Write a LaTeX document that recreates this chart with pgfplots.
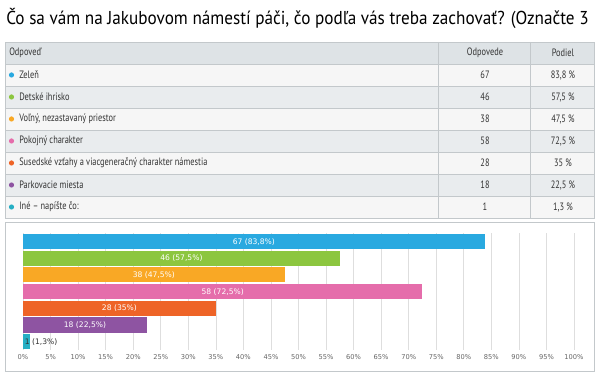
\documentclass[border=0pt]{standalone}
\usepackage{pgfplots}
\pgfplotsset{compat=1.18}
\usepackage{fontspec}
\setmainfont{PT Sans}[FakeStretch=0.92]
\newfontfamily\tabfont{PT Sans}[FakeStretch=0.785]
\newfontfamily\dejavu{DejaVu Sans}
\definecolor{c1}{HTML}{29A9E0}
\definecolor{c2}{HTML}{8CC63F}
\definecolor{c3}{HTML}{F9A825}
\definecolor{c4}{HTML}{E56DAB}
\definecolor{c5}{HTML}{EE6427}
\definecolor{c6}{HTML}{8E54A2}
\definecolor{c7}{HTML}{26AFC4}
\definecolor{hdr}{HTML}{DEE3E6}
\definecolor{rowA}{HTML}{F6F6F6}
\definecolor{rowB}{HTML}{E9ECEE}
\definecolor{bord}{HTML}{C3C8CB}
\definecolor{txt}{HTML}{333333}
\definecolor{tickc}{HTML}{666666}
\begin{document}
\begin{tikzpicture}
\useasboundingbox (0pt,0pt) rectangle (450pt,-282.75pt);
\begin{scope}[x=0.75pt,y=-0.75pt]
\fill[white] (0,0) rectangle (600,377);
% title
\node[anchor=west,font=\fontsize{14}{16}\selectfont,text=black,inner sep=0] at (6,18) {Čo sa vám na Jakubovom námestí páči, čo podľa vás treba zachovať? (Označte 3};
% table
\fill[hdr] (5,42) rectangle (594,64);
\fill[rowA] (5,64) rectangle (594,86);
\fill[rowB] (5,86) rectangle (594,108);
\fill[rowA] (5,108) rectangle (594,130);
\fill[rowB] (5,130) rectangle (594,152);
\fill[rowA] (5,152) rectangle (594,174);
\fill[rowB] (5,174) rectangle (594,196);
\fill[rowA] (5,196) rectangle (594,218);
\foreach \yy in {64,86,108,130,152,174,196}
  \draw[bord,line width=0.6pt] (5,\yy) -- (594,\yy);
\draw[bord,line width=0.6pt] (5,42) rectangle (594,218);
\draw[bord,line width=0.6pt] (438,42) -- (438,218);
\draw[bord,line width=0.6pt] (530,42) -- (530,218);
\begin{scope}[every node/.style={font=\tabfont\fontsize{8}{10}\selectfont,text=txt,inner sep=0}]
\node[anchor=west] at (9,53) {Odpoveď};
\node at (485,53) {Odpovede};
\node at (563,53) {Podiel};
\foreach \yc/\cc/\lab/\cnt/\pc in {
  75/c1/{Zeleň}/67/{83,8 \%},
  97/c2/{Detské ihrisko}/46/{57,5 \%},
  119/c3/{Voľný, nezastavaný priestor}/38/{47,5 \%},
  141/c4/{Pokojný charakter}/58/{72,5 \%},
  163/c5/{Susedské vzťahy a viacgeneračný charakter námestia}/28/{35 \%},
  185/c6/{Parkovacie miesta}/18/{22,5 \%},
  207/c7/{Iné – napíšte čo:}/1/{1,3 \%}}{
  \fill[\cc] (11.5,\yc) circle[radius=2.6];
  \node[anchor=west] at (19,\yc) {\lab};
  \node at (485,\yc) {\cnt};
  \node at (563,\yc) {\pc};
}
\end{scope}
% chart box
\draw[bord,line width=0.6pt,fill=white] (5,222) rectangle (594,371);
\end{scope}
\begin{axis}[
  at={(17.25pt,-262.5pt)}, anchor=south west,
  scale only axis, width=413.25pt, height=87.5pt,
  xbar, bar width=11.25pt, bar shift=0pt,
  xmin=0, xmax=100, ymin=0.5, ymax=7.5, y dir=reverse,
  axis line style={draw=none},
  ytick=\empty,
  xtick={0,5,...,100},
  xticklabel={\pgfmathprintnumber{\tick}\%},
  /pgf/number format/assume math mode=true,
  xticklabel style={font=\dejavu\fontsize{5}{6}\selectfont,text=tickc},
  major tick length=0pt,
  xmajorgrids, major grid style={draw=black!13,line width=0.5pt},
  clip=false,
]
\addplot[draw=none,fill=c1] coordinates {(83.8,1)};
\addplot[draw=none,fill=c2] coordinates {(57.5,2)};
\addplot[draw=none,fill=c3] coordinates {(47.5,3)};
\addplot[draw=none,fill=c4] coordinates {(72.5,4)};
\addplot[draw=none,fill=c5] coordinates {(35,5)};
\addplot[draw=none,fill=c6] coordinates {(22.5,6)};
\addplot[draw=none,fill=c7] coordinates {(1.3,7)};
\begin{scope}[every node/.style={font=\dejavu\fontsize{5.7}{7}\selectfont,text=white,inner sep=0}]
\node at (axis cs:41.9,1) {67 (83,8\%)};
\node at (axis cs:28.75,2) {46 (57,5\%)};
\node at (axis cs:23.75,3) {38 (47,5\%)};
\node at (axis cs:36.25,4) {58 (72,5\%)};
\node at (axis cs:17.5,5) {28 (35\%)};
\node at (axis cs:11.25,6) {18 (22,5\%)};
\node[anchor=west,text=txt] at (axis cs:0.3,7) {1 (1,3\%)};
\end{scope}
\end{axis}
\end{tikzpicture}
\end{document}
